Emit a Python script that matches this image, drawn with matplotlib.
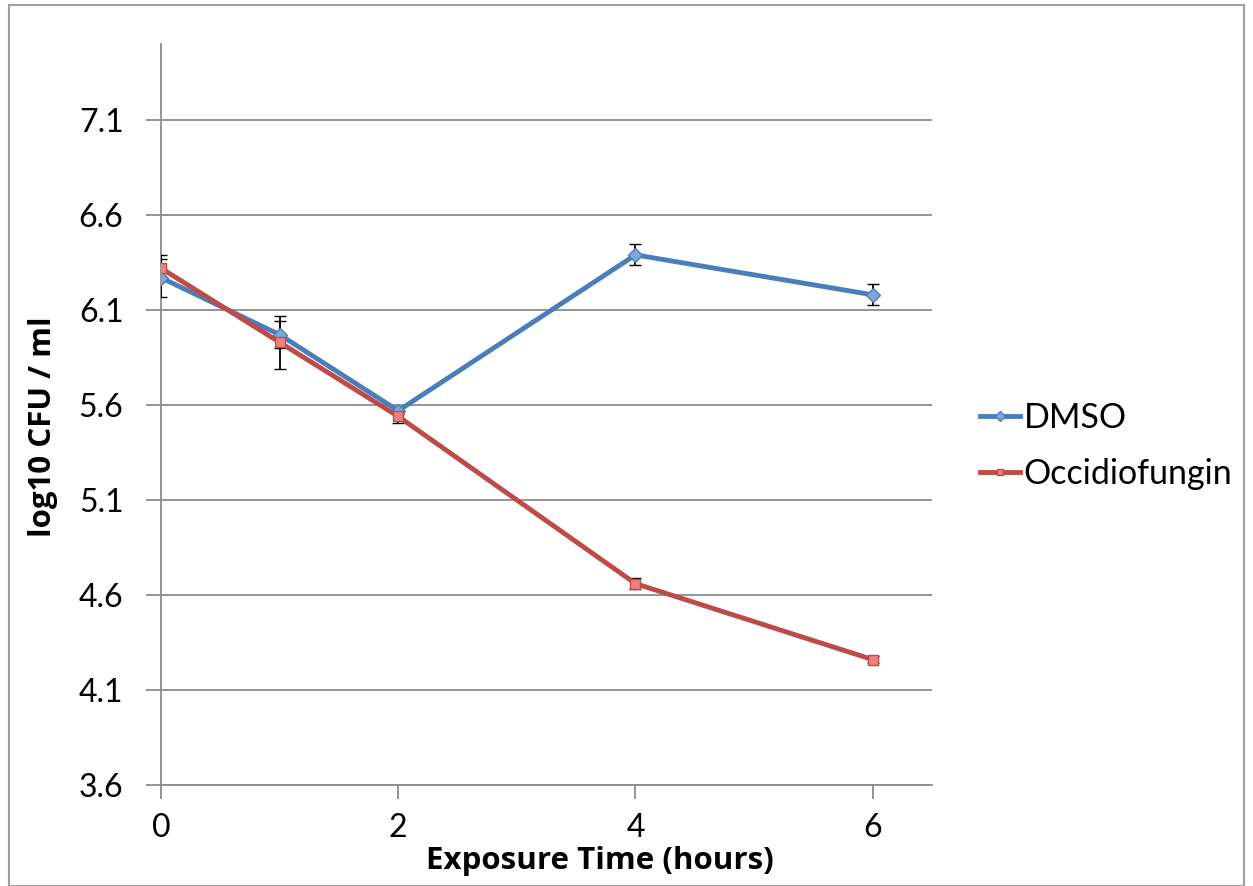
import matplotlib
matplotlib.use("Agg")
import matplotlib.pyplot as plt
from matplotlib.patches import Rectangle

hours = [0, 1, 2, 4, 6]
dmso = [6.27, 5.97, 5.57, 6.39, 6.18]
dmso_err = [0.10, 0.07, 0.02, 0.055, 0.055]
occ = [6.32, 5.93, 5.54, 4.66, 4.26]
occ_err = [0.07, 0.14, 0.035, 0.03, 0.02]
yticks = [3.6, 4.1, 4.6, 5.1, 5.6, 6.1, 6.6, 7.1]
xticks = [0, 2, 4, 6]

plt.rcParams['font.family'] = ['Lato', 'DejaVu Sans']

fig = plt.figure(figsize=(12.53, 8.86), dpi=100)
ax = fig.add_axes([161/1253, 1-785/886, (932-161)/1253, (785-44)/886])

blue = '#4A7EBB'
red = '#BE4B48'

ax.errorbar(hours, dmso, yerr=dmso_err, color=blue, lw=3.5, marker='D', ms=7,
            mfc='#7DA7D9', mec=blue, mew=1, ecolor='black', elinewidth=1.3,
            capsize=4, capthick=1.3, label='DMSO', zorder=3)
ax.errorbar(hours, occ, yerr=occ_err, color=red, lw=3.5, marker='s', ms=7,
            mfc='#F08080', mec=red, mew=1, ecolor='black', elinewidth=1.3,
            capsize=4, capthick=1.3, label='Occidiofungin', zorder=3)

ax.set_xlim(0, 6.5)
ax.set_ylim(3.6, 7.5)
ax.set_yticks(yticks)
ax.set_yticklabels([f"{v:.1f}" for v in yticks])
ax.set_xticks(xticks)
ax.yaxis.grid(True, color='#8C8C8C', lw=1.3)
ax.set_axisbelow(True)
for s in ['top', 'right']:
    ax.spines[s].set_visible(False)
for s in ['left', 'bottom']:
    ax.spines[s].set_color('#8C8C8C')
    ax.spines[s].set_linewidth(1.3)
ax.tick_params(axis='both', direction='out', length=10, width=1.3, color='#8C8C8C',
               labelsize=23)
ax.tick_params(axis='y', length=11, pad=16)
ax.tick_params(axis='x', pad=10)
lab_font = dict(family=['Open Sans', 'DejaVu Sans'], fontsize=22.5, fontweight='bold')
ax.set_xlabel('Exposure Time (hours)', **lab_font)
ax.set_ylabel('log10 CFU / ml', **lab_font)
ax.xaxis.set_label_coords((600 - 161) / 771, -(846 - 785) / 741)
ax.yaxis.set_label_coords(-(161 - 58) / 771, (785 - 427) / 741)

handles, labels = ax.get_legend_handles_labels()
handles = [h[0] for h in handles]
fig.legend(handles, labels, loc='center left', bbox_to_anchor=(949/1253, 1-446/886),
           frameon=False, fontsize=24.5, handlelength=1.2, handletextpad=0.1,
           labelspacing=0.7, markerscale=0.7)

fig.add_artist(Rectangle((9/1253, 0), 1-18/1253, 1-5/886, transform=fig.transFigure,
                         fill=False, edgecolor='#A0A0A0', lw=1.5))

fig.savefig('out.png', dpi=100)
